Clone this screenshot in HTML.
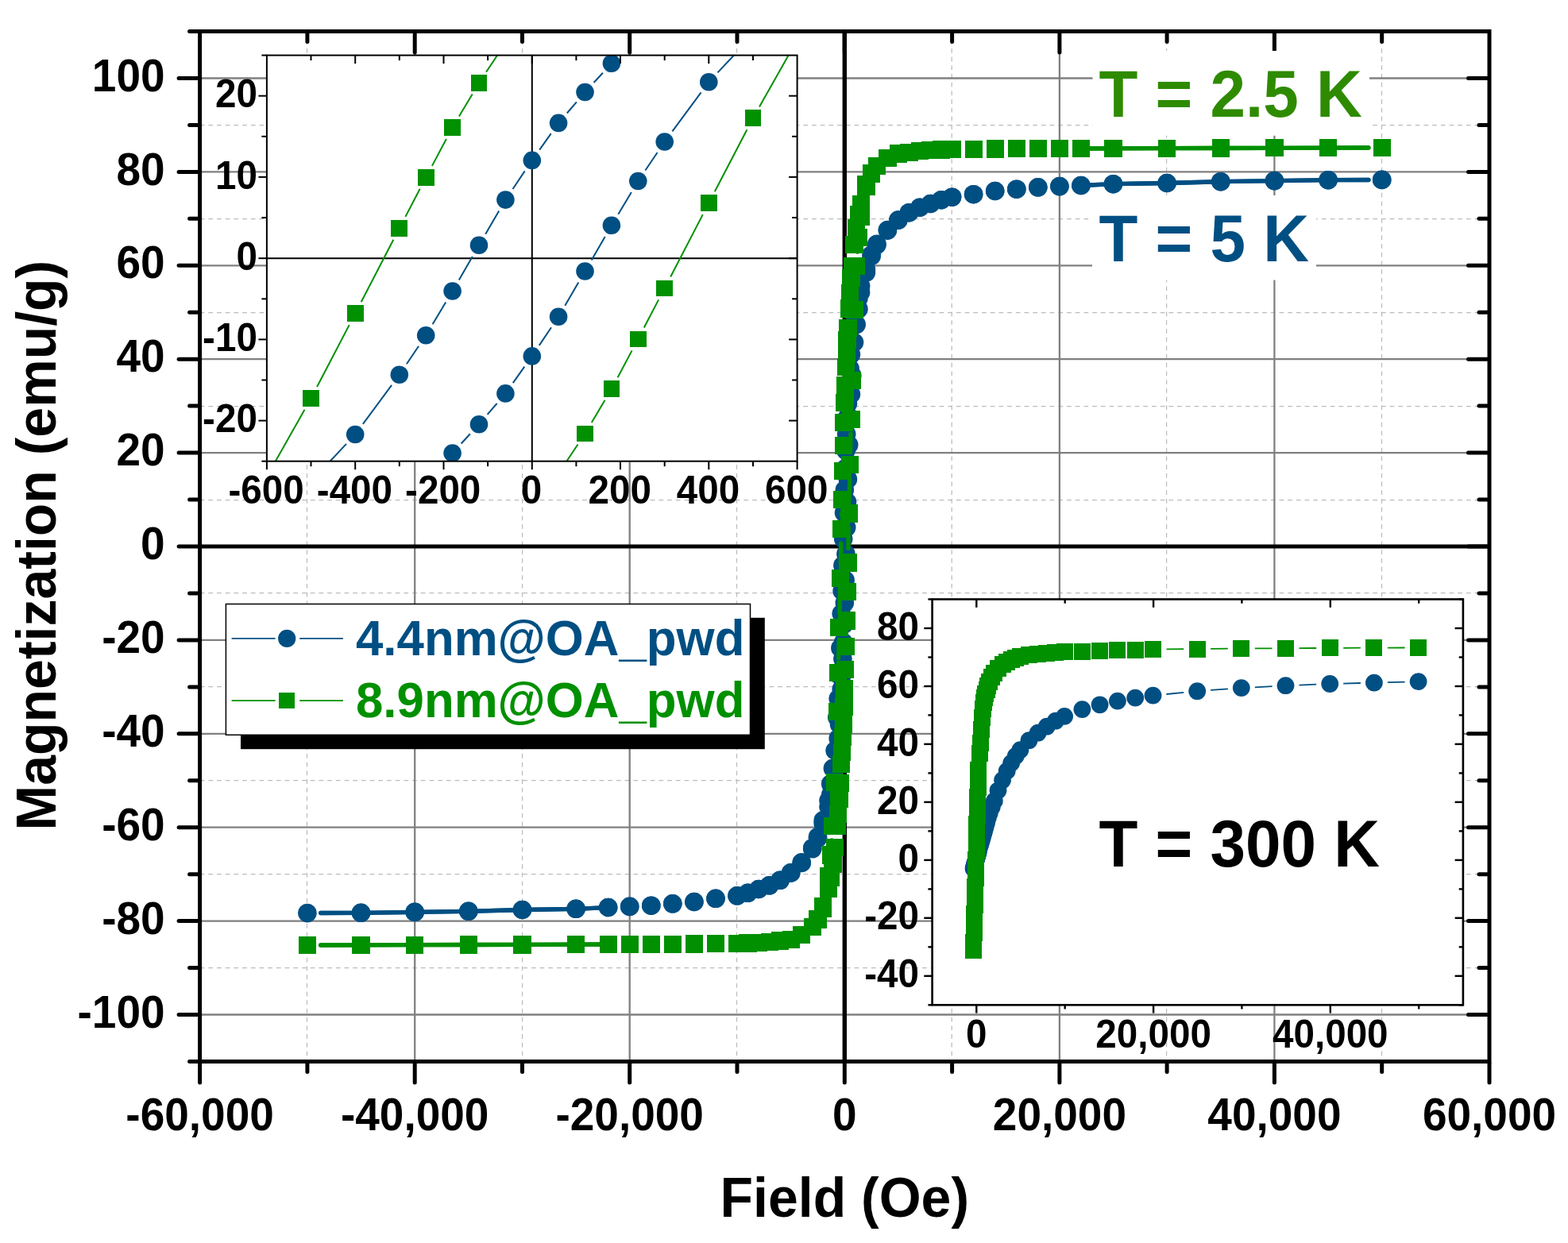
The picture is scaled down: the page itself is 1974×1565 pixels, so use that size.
<!DOCTYPE html>
<html><head><meta charset="utf-8"><title>Magnetization vs Field</title>
<style>html,body{margin:0;padding:0;background:#fff}svg{display:block}</style></head>
<body>
<svg width="1974" height="1565" viewBox="0 0 1974 1565" font-family='"Liberation Sans", sans-serif' font-weight="bold">
<rect width="1974" height="1565" fill="#fff"/>
<g shape-rendering="crispEdges"><line x1="386.5" y1="39.5" x2="386.5" y2="1336.5" stroke="#bcbcbc" stroke-width="1.25" stroke-dasharray="5.8 4.9" shape-rendering="auto"/><line x1="657.6" y1="39.5" x2="657.6" y2="1336.5" stroke="#bcbcbc" stroke-width="1.25" stroke-dasharray="5.8 4.9" shape-rendering="auto"/><line x1="927.5" y1="39.5" x2="927.5" y2="1336.5" stroke="#bcbcbc" stroke-width="1.25" stroke-dasharray="5.8 4.9" shape-rendering="auto"/><line x1="1198.2" y1="39.5" x2="1198.2" y2="1336.5" stroke="#bcbcbc" stroke-width="1.25" stroke-dasharray="5.8 4.9" shape-rendering="auto"/><line x1="1468.6" y1="39.5" x2="1468.6" y2="1336.5" stroke="#bcbcbc" stroke-width="1.25" stroke-dasharray="5.8 4.9" shape-rendering="auto"/><line x1="1739.5" y1="39.5" x2="1739.5" y2="1336.5" stroke="#bcbcbc" stroke-width="1.25" stroke-dasharray="5.8 4.9" shape-rendering="auto"/><line x1="251.6" y1="1218.5" x2="1875.0" y2="1218.5" stroke="#bcbcbc" stroke-width="1.25" stroke-dasharray="5.8 4.9" shape-rendering="auto"/><line x1="251.6" y1="1100.5" x2="1875.0" y2="1100.5" stroke="#bcbcbc" stroke-width="1.25" stroke-dasharray="5.8 4.9" shape-rendering="auto"/><line x1="251.6" y1="982.5" x2="1875.0" y2="982.5" stroke="#bcbcbc" stroke-width="1.25" stroke-dasharray="5.8 4.9" shape-rendering="auto"/><line x1="251.6" y1="864.5" x2="1875.0" y2="864.5" stroke="#bcbcbc" stroke-width="1.25" stroke-dasharray="5.8 4.9" shape-rendering="auto"/><line x1="251.6" y1="746.5" x2="1875.0" y2="746.5" stroke="#bcbcbc" stroke-width="1.25" stroke-dasharray="5.8 4.9" shape-rendering="auto"/><line x1="251.6" y1="629.5" x2="1875.0" y2="629.5" stroke="#bcbcbc" stroke-width="1.25" stroke-dasharray="5.8 4.9" shape-rendering="auto"/><line x1="251.6" y1="511.5" x2="1875.0" y2="511.5" stroke="#bcbcbc" stroke-width="1.25" stroke-dasharray="5.8 4.9" shape-rendering="auto"/><line x1="251.6" y1="393.5" x2="1875.0" y2="393.5" stroke="#bcbcbc" stroke-width="1.25" stroke-dasharray="5.8 4.9" shape-rendering="auto"/><line x1="251.6" y1="275.5" x2="1875.0" y2="275.5" stroke="#bcbcbc" stroke-width="1.25" stroke-dasharray="5.8 4.9" shape-rendering="auto"/><line x1="251.6" y1="157.5" x2="1875.0" y2="157.5" stroke="#bcbcbc" stroke-width="1.25" stroke-dasharray="5.8 4.9" shape-rendering="auto"/><line x1="522.2" y1="39.5" x2="522.2" y2="1336.5" stroke="#808080" stroke-width="2.3" shape-rendering="auto"/><line x1="792.7" y1="39.5" x2="792.7" y2="1336.5" stroke="#808080" stroke-width="2.3" shape-rendering="auto"/><line x1="1333.9" y1="39.5" x2="1333.9" y2="1336.5" stroke="#808080" stroke-width="2.3" shape-rendering="auto"/><line x1="1604.4" y1="39.5" x2="1604.4" y2="1336.5" stroke="#808080" stroke-width="2.3" shape-rendering="auto"/><line x1="251.6" y1="1277.5" x2="1875.0" y2="1277.5" stroke="#808080" stroke-width="2.3" shape-rendering="auto"/><line x1="251.6" y1="1159.6" x2="1875.0" y2="1159.6" stroke="#808080" stroke-width="2.3" shape-rendering="auto"/><line x1="251.6" y1="1041.7" x2="1875.0" y2="1041.7" stroke="#808080" stroke-width="2.3" shape-rendering="auto"/><line x1="251.6" y1="923.8" x2="1875.0" y2="923.8" stroke="#808080" stroke-width="2.3" shape-rendering="auto"/><line x1="251.6" y1="805.9" x2="1875.0" y2="805.9" stroke="#808080" stroke-width="2.3" shape-rendering="auto"/><line x1="251.6" y1="570.1" x2="1875.0" y2="570.1" stroke="#808080" stroke-width="2.3" shape-rendering="auto"/><line x1="251.6" y1="452.2" x2="1875.0" y2="452.2" stroke="#808080" stroke-width="2.3" shape-rendering="auto"/><line x1="251.6" y1="334.3" x2="1875.0" y2="334.3" stroke="#808080" stroke-width="2.3" shape-rendering="auto"/><line x1="251.6" y1="216.4" x2="1875.0" y2="216.4" stroke="#808080" stroke-width="2.3" shape-rendering="auto"/><line x1="251.6" y1="98.5" x2="1875.0" y2="98.5" stroke="#808080" stroke-width="2.3" shape-rendering="auto"/></g>
<line x1="1063.3" y1="39.5" x2="1063.3" y2="1336.5" stroke="#000" stroke-width="5.4"/>
<line x1="251.6" y1="688.0" x2="1875.0" y2="688.0" stroke="#000" stroke-width="5.0"/>
<g stroke="#004F83" stroke-width="5.3" stroke-linecap="round"><line x1="1058.7" y1="790.6" x2="1058.5" y2="797.9"/><line x1="1052.7" y1="921.1" x2="1052.3" y2="927.1"/><line x1="1067.9" y1="585.4" x2="1068.1" y2="578.1"/><line x1="1073.9" y1="454.9" x2="1074.3" y2="448.9"/><line x1="1722.9" y1="226.5" x2="1672.1" y2="226.7"/><line x1="1672.1" y1="226.7" x2="1604.4" y2="227.6"/><line x1="1604.4" y1="227.6" x2="1536.8" y2="228.7"/><line x1="1536.8" y1="228.7" x2="1469.1" y2="230.5"/><line x1="1469.1" y1="230.5" x2="1401.5" y2="231.7"/><line x1="1401.5" y1="231.7" x2="1360.9" y2="233.5"/><line x1="765.7" y1="1142.5" x2="725.1" y2="1144.3"/><line x1="725.1" y1="1144.3" x2="657.5" y2="1145.5"/><line x1="657.5" y1="1145.5" x2="589.8" y2="1147.3"/><line x1="589.8" y1="1147.3" x2="522.2" y2="1148.4"/><line x1="522.2" y1="1148.4" x2="454.5" y2="1149.3"/><line x1="454.5" y1="1149.3" x2="403.7" y2="1149.5"/><line x1="403.7" y1="1149.5" x2="454.5" y2="1149.3"/><line x1="454.5" y1="1149.3" x2="522.2" y2="1148.4"/><line x1="522.2" y1="1148.4" x2="589.8" y2="1147.3"/><line x1="589.8" y1="1147.3" x2="657.5" y2="1145.5"/><line x1="657.5" y1="1145.5" x2="725.1" y2="1144.3"/><line x1="725.1" y1="1144.3" x2="765.7" y2="1142.5"/><line x1="1360.9" y1="233.5" x2="1401.5" y2="231.7"/><line x1="1401.5" y1="231.7" x2="1469.1" y2="230.5"/><line x1="1469.1" y1="230.5" x2="1536.8" y2="228.7"/><line x1="1536.8" y1="228.7" x2="1604.4" y2="227.6"/><line x1="1604.4" y1="227.6" x2="1672.1" y2="226.7"/><line x1="1672.1" y1="226.7" x2="1722.9" y2="226.5"/></g><g fill="#004F83"><circle cx="1739.7" cy="226.4" r="11.8"/><circle cx="1672.1" cy="226.7" r="11.8"/><circle cx="1604.4" cy="227.6" r="11.8"/><circle cx="1536.8" cy="228.7" r="11.8"/><circle cx="1469.1" cy="230.5" r="11.8"/><circle cx="1401.5" cy="231.7" r="11.8"/><circle cx="1360.9" cy="233.5" r="11.8"/><circle cx="1333.9" cy="234.6" r="11.8"/><circle cx="1306.8" cy="235.8" r="11.8"/><circle cx="1279.8" cy="238.2" r="11.8"/><circle cx="1252.7" cy="240.5" r="11.8"/><circle cx="1225.6" cy="244.7" r="11.8"/><circle cx="1198.6" cy="248.2" r="11.8"/><circle cx="1185.1" cy="251.7" r="11.8"/><circle cx="1171.5" cy="256.5" r="11.8"/><circle cx="1158.0" cy="261.2" r="11.8"/><circle cx="1144.5" cy="267.7" r="11.8"/><circle cx="1130.9" cy="277.1" r="11.8"/><circle cx="1117.4" cy="289.5" r="11.8"/><circle cx="1103.9" cy="307.2" r="11.8"/><circle cx="1097.1" cy="320.7" r="11.8"/><circle cx="1090.4" cy="339.0" r="11.8"/><circle cx="1083.6" cy="360.2" r="11.8"/><circle cx="1080.9" cy="375.5" r="11.8"/><circle cx="1078.2" cy="390.3" r="11.8"/><circle cx="1075.5" cy="408.0" r="11.8"/><circle cx="1072.8" cy="431.5" r="11.8"/><circle cx="1071.4" cy="446.3" r="11.8"/><circle cx="1070.1" cy="464.0" r="11.8"/><circle cx="1068.7" cy="484.6" r="11.8"/><circle cx="1067.4" cy="508.2" r="11.8"/><circle cx="1066.5" cy="525.9" r="11.8"/><circle cx="1065.7" cy="546.5" r="11.8"/><circle cx="1064.9" cy="567.4" r="11.8"/><circle cx="1064.1" cy="589.8" r="11.8"/><circle cx="1063.3" cy="616.9" r="11.8"/><circle cx="1062.5" cy="645.6" r="11.8"/><circle cx="1061.7" cy="678.6" r="11.8"/><circle cx="1060.9" cy="711.9" r="11.8"/><circle cx="1060.1" cy="744.0" r="11.8"/><circle cx="1059.2" cy="772.6" r="11.8"/><circle cx="1057.9" cy="815.9" r="11.8"/><circle cx="1056.5" cy="850.1" r="11.8"/><circle cx="1055.2" cy="879.6" r="11.8"/><circle cx="1053.8" cy="903.2" r="11.8"/><circle cx="1051.1" cy="945.0" r="11.8"/><circle cx="1048.4" cy="967.4" r="11.8"/><circle cx="1045.7" cy="986.9" r="11.8"/><circle cx="1043.0" cy="1008.1" r="11.8"/><circle cx="1036.2" cy="1032.9" r="11.8"/><circle cx="1029.5" cy="1053.5" r="11.8"/><circle cx="1022.7" cy="1067.7" r="11.8"/><circle cx="1009.2" cy="1085.9" r="11.8"/><circle cx="995.7" cy="1098.9" r="11.8"/><circle cx="982.1" cy="1108.3" r="11.8"/><circle cx="968.6" cy="1114.8" r="11.8"/><circle cx="955.1" cy="1119.5" r="11.8"/><circle cx="941.5" cy="1124.3" r="11.8"/><circle cx="928.0" cy="1127.8" r="11.8"/><circle cx="901.0" cy="1131.3" r="11.8"/><circle cx="873.9" cy="1135.5" r="11.8"/><circle cx="846.8" cy="1137.8" r="11.8"/><circle cx="819.8" cy="1140.2" r="11.8"/><circle cx="792.7" cy="1141.4" r="11.8"/><circle cx="765.7" cy="1142.5" r="11.8"/><circle cx="725.1" cy="1144.3" r="11.8"/><circle cx="657.5" cy="1145.5" r="11.8"/><circle cx="589.8" cy="1147.3" r="11.8"/><circle cx="522.2" cy="1148.4" r="11.8"/><circle cx="454.5" cy="1149.3" r="11.8"/><circle cx="386.9" cy="1149.6" r="11.8"/><circle cx="454.5" cy="1149.3" r="11.8"/><circle cx="522.2" cy="1148.4" r="11.8"/><circle cx="589.8" cy="1147.3" r="11.8"/><circle cx="657.5" cy="1145.5" r="11.8"/><circle cx="725.1" cy="1144.3" r="11.8"/><circle cx="765.7" cy="1142.5" r="11.8"/><circle cx="792.7" cy="1141.4" r="11.8"/><circle cx="819.8" cy="1140.2" r="11.8"/><circle cx="846.8" cy="1137.8" r="11.8"/><circle cx="873.9" cy="1135.5" r="11.8"/><circle cx="901.0" cy="1131.3" r="11.8"/><circle cx="928.0" cy="1127.8" r="11.8"/><circle cx="941.5" cy="1124.3" r="11.8"/><circle cx="955.1" cy="1119.5" r="11.8"/><circle cx="968.6" cy="1114.8" r="11.8"/><circle cx="982.1" cy="1108.3" r="11.8"/><circle cx="995.7" cy="1098.9" r="11.8"/><circle cx="1009.2" cy="1086.5" r="11.8"/><circle cx="1022.7" cy="1068.8" r="11.8"/><circle cx="1029.5" cy="1055.3" r="11.8"/><circle cx="1036.2" cy="1037.0" r="11.8"/><circle cx="1043.0" cy="1015.8" r="11.8"/><circle cx="1045.7" cy="1000.5" r="11.8"/><circle cx="1048.4" cy="985.7" r="11.8"/><circle cx="1051.1" cy="968.0" r="11.8"/><circle cx="1053.8" cy="944.5" r="11.8"/><circle cx="1055.2" cy="929.7" r="11.8"/><circle cx="1056.5" cy="912.0" r="11.8"/><circle cx="1057.9" cy="891.4" r="11.8"/><circle cx="1059.2" cy="867.8" r="11.8"/><circle cx="1060.1" cy="850.1" r="11.8"/><circle cx="1060.9" cy="829.5" r="11.8"/><circle cx="1061.7" cy="808.6" r="11.8"/><circle cx="1062.5" cy="786.2" r="11.8"/><circle cx="1063.3" cy="759.1" r="11.8"/><circle cx="1064.1" cy="730.4" r="11.8"/><circle cx="1064.9" cy="697.4" r="11.8"/><circle cx="1065.7" cy="664.1" r="11.8"/><circle cx="1066.5" cy="632.0" r="11.8"/><circle cx="1067.4" cy="603.4" r="11.8"/><circle cx="1068.7" cy="560.1" r="11.8"/><circle cx="1070.1" cy="525.9" r="11.8"/><circle cx="1071.4" cy="496.4" r="11.8"/><circle cx="1072.8" cy="472.8" r="11.8"/><circle cx="1075.5" cy="431.0" r="11.8"/><circle cx="1078.2" cy="408.6" r="11.8"/><circle cx="1080.9" cy="389.1" r="11.8"/><circle cx="1083.6" cy="367.9" r="11.8"/><circle cx="1090.4" cy="343.1" r="11.8"/><circle cx="1097.1" cy="322.5" r="11.8"/><circle cx="1103.9" cy="308.3" r="11.8"/><circle cx="1117.4" cy="290.1" r="11.8"/><circle cx="1130.9" cy="277.1" r="11.8"/><circle cx="1144.5" cy="267.7" r="11.8"/><circle cx="1158.0" cy="261.2" r="11.8"/><circle cx="1171.5" cy="256.5" r="11.8"/><circle cx="1185.1" cy="251.7" r="11.8"/><circle cx="1198.6" cy="248.2" r="11.8"/><circle cx="1225.6" cy="244.7" r="11.8"/><circle cx="1252.7" cy="240.5" r="11.8"/><circle cx="1279.8" cy="238.2" r="11.8"/><circle cx="1306.8" cy="235.8" r="11.8"/><circle cx="1333.9" cy="234.6" r="11.8"/><circle cx="1360.9" cy="233.5" r="11.8"/><circle cx="1401.5" cy="231.7" r="11.8"/><circle cx="1469.1" cy="230.5" r="11.8"/><circle cx="1536.8" cy="228.7" r="11.8"/><circle cx="1604.4" cy="227.6" r="11.8"/><circle cx="1672.1" cy="226.7" r="11.8"/><circle cx="1739.7" cy="226.4" r="11.8"/></g>
<g stroke="#009000" stroke-width="5.3" stroke-linecap="round"><line x1="1059.7" y1="647.3" x2="1059.6" y2="648.2"/><line x1="1058.8" y1="684.2" x2="1058.3" y2="710.1"/><line x1="1057.5" y1="746.1" x2="1056.9" y2="771.7"/><line x1="1056.1" y1="807.7" x2="1055.6" y2="828.6"/><line x1="1054.7" y1="864.6" x2="1054.3" y2="878.1"/><line x1="1053.3" y1="914.1" x2="1051.7" y2="967.1"/><line x1="1050.2" y1="1003.1" x2="1049.3" y2="1022.0"/><line x1="1047.1" y1="1057.9" x2="1047.0" y2="1058.6"/><line x1="1039.9" y1="1120.8" x2="1039.4" y2="1123.3"/><line x1="1066.9" y1="727.3" x2="1067.0" y2="726.4"/><line x1="1067.8" y1="690.4" x2="1068.3" y2="664.5"/><line x1="1069.1" y1="628.5" x2="1069.7" y2="603.0"/><line x1="1070.5" y1="567.0" x2="1071.0" y2="546.2"/><line x1="1071.9" y1="510.2" x2="1072.3" y2="496.7"/><line x1="1073.3" y1="460.7" x2="1074.9" y2="407.8"/><line x1="1076.4" y1="371.9" x2="1077.3" y2="353.2"/><line x1="1079.5" y1="317.2" x2="1079.6" y2="316.7"/><line x1="1086.8" y1="254.7" x2="1087.2" y2="252.4"/><line x1="1722.9" y1="186.0" x2="1672.1" y2="186.2"/><line x1="1672.1" y1="186.2" x2="1604.4" y2="186.3"/><line x1="1604.4" y1="186.3" x2="1536.8" y2="186.5"/><line x1="1536.8" y1="186.5" x2="1469.1" y2="186.6"/><line x1="1469.1" y1="186.6" x2="1401.5" y2="186.8"/><line x1="1401.5" y1="186.8" x2="1360.9" y2="187.0"/><line x1="765.7" y1="1189.0" x2="725.1" y2="1189.2"/><line x1="725.1" y1="1189.2" x2="657.5" y2="1189.4"/><line x1="657.5" y1="1189.4" x2="589.8" y2="1189.5"/><line x1="589.8" y1="1189.5" x2="522.2" y2="1189.7"/><line x1="522.2" y1="1189.7" x2="454.5" y2="1189.8"/><line x1="454.5" y1="1189.8" x2="403.7" y2="1190.0"/><line x1="403.7" y1="1190.0" x2="454.5" y2="1189.8"/><line x1="454.5" y1="1189.8" x2="522.2" y2="1189.7"/><line x1="522.2" y1="1189.7" x2="589.8" y2="1189.5"/><line x1="589.8" y1="1189.5" x2="657.5" y2="1189.4"/><line x1="657.5" y1="1189.4" x2="725.1" y2="1189.2"/><line x1="725.1" y1="1189.2" x2="765.7" y2="1189.0"/><line x1="1360.9" y1="187.0" x2="1401.5" y2="186.8"/><line x1="1401.5" y1="186.8" x2="1469.1" y2="186.6"/><line x1="1469.1" y1="186.6" x2="1536.8" y2="186.5"/><line x1="1536.8" y1="186.5" x2="1604.4" y2="186.3"/><line x1="1604.4" y1="186.3" x2="1672.1" y2="186.2"/><line x1="1672.1" y1="186.2" x2="1722.9" y2="186.0"/></g><g fill="#009000" shape-rendering="crispEdges"><rect x="1728.6" y="174.9" width="22.2" height="22.2"/><rect x="1661.0" y="175.1" width="22.2" height="22.2"/><rect x="1593.3" y="175.2" width="22.2" height="22.2"/><rect x="1525.7" y="175.4" width="22.2" height="22.2"/><rect x="1458.0" y="175.5" width="22.2" height="22.2"/><rect x="1390.4" y="175.7" width="22.2" height="22.2"/><rect x="1349.8" y="175.9" width="22.2" height="22.2"/><rect x="1322.8" y="176.0" width="22.2" height="22.2"/><rect x="1295.7" y="176.1" width="22.2" height="22.2"/><rect x="1268.7" y="176.2" width="22.2" height="22.2"/><rect x="1241.6" y="176.4" width="22.2" height="22.2"/><rect x="1214.5" y="176.6" width="22.2" height="22.2"/><rect x="1187.5" y="177.0" width="22.2" height="22.2"/><rect x="1174.0" y="177.4" width="22.2" height="22.2"/><rect x="1160.4" y="178.1" width="22.2" height="22.2"/><rect x="1146.9" y="179.0" width="22.2" height="22.2"/><rect x="1133.4" y="180.5" width="22.2" height="22.2"/><rect x="1119.8" y="182.3" width="22.2" height="22.2"/><rect x="1106.3" y="187.6" width="22.2" height="22.2"/><rect x="1092.8" y="197.6" width="22.2" height="22.2"/><rect x="1086.0" y="207.0" width="22.2" height="22.2"/><rect x="1079.3" y="221.2" width="22.2" height="22.2"/><rect x="1072.5" y="245.9" width="22.2" height="22.2"/><rect x="1069.8" y="258.9" width="22.2" height="22.2"/><rect x="1067.1" y="276.0" width="22.2" height="22.2"/><rect x="1064.4" y="297.2" width="22.2" height="22.2"/><rect x="1061.7" y="323.8" width="22.2" height="22.2"/><rect x="1060.3" y="339.1" width="22.2" height="22.2"/><rect x="1059.0" y="357.7" width="22.2" height="22.2"/><rect x="1057.6" y="377.4" width="22.2" height="22.2"/><rect x="1056.3" y="401.6" width="22.2" height="22.2"/><rect x="1055.4" y="416.9" width="22.2" height="22.2"/><rect x="1054.6" y="435.2" width="22.2" height="22.2"/><rect x="1053.8" y="451.1" width="22.2" height="22.2"/><rect x="1053.0" y="473.5" width="22.2" height="22.2"/><rect x="1052.2" y="495.9" width="22.2" height="22.2"/><rect x="1051.4" y="520.7" width="22.2" height="22.2"/><rect x="1050.6" y="549.6" width="22.2" height="22.2"/><rect x="1049.8" y="582.0" width="22.2" height="22.2"/><rect x="1049.0" y="618.2" width="22.2" height="22.2"/><rect x="1048.1" y="655.1" width="22.2" height="22.2"/><rect x="1046.8" y="717.0" width="22.2" height="22.2"/><rect x="1045.4" y="778.6" width="22.2" height="22.2"/><rect x="1044.1" y="835.5" width="22.2" height="22.2"/><rect x="1042.7" y="885.0" width="22.2" height="22.2"/><rect x="1040.0" y="974.0" width="22.2" height="22.2"/><rect x="1037.3" y="1028.9" width="22.2" height="22.2"/><rect x="1034.6" y="1065.4" width="22.2" height="22.2"/><rect x="1031.9" y="1091.9" width="22.2" height="22.2"/><rect x="1025.1" y="1130.0" width="22.2" height="22.2"/><rect x="1018.4" y="1145.6" width="22.2" height="22.2"/><rect x="1011.6" y="1155.6" width="22.2" height="22.2"/><rect x="998.1" y="1166.2" width="22.2" height="22.2"/><rect x="984.6" y="1171.5" width="22.2" height="22.2"/><rect x="971.0" y="1173.3" width="22.2" height="22.2"/><rect x="957.5" y="1174.8" width="22.2" height="22.2"/><rect x="944.0" y="1175.7" width="22.2" height="22.2"/><rect x="930.4" y="1176.4" width="22.2" height="22.2"/><rect x="916.9" y="1176.8" width="22.2" height="22.2"/><rect x="889.9" y="1177.2" width="22.2" height="22.2"/><rect x="862.8" y="1177.4" width="22.2" height="22.2"/><rect x="835.7" y="1177.6" width="22.2" height="22.2"/><rect x="808.7" y="1177.7" width="22.2" height="22.2"/><rect x="781.6" y="1177.8" width="22.2" height="22.2"/><rect x="754.6" y="1177.9" width="22.2" height="22.2"/><rect x="714.0" y="1178.1" width="22.2" height="22.2"/><rect x="646.4" y="1178.3" width="22.2" height="22.2"/><rect x="578.7" y="1178.4" width="22.2" height="22.2"/><rect x="511.1" y="1178.6" width="22.2" height="22.2"/><rect x="443.4" y="1178.7" width="22.2" height="22.2"/><rect x="375.8" y="1178.9" width="22.2" height="22.2"/><rect x="443.4" y="1178.7" width="22.2" height="22.2"/><rect x="511.1" y="1178.6" width="22.2" height="22.2"/><rect x="578.7" y="1178.4" width="22.2" height="22.2"/><rect x="646.4" y="1178.3" width="22.2" height="22.2"/><rect x="714.0" y="1178.1" width="22.2" height="22.2"/><rect x="754.6" y="1177.9" width="22.2" height="22.2"/><rect x="781.6" y="1177.8" width="22.2" height="22.2"/><rect x="808.7" y="1177.7" width="22.2" height="22.2"/><rect x="835.7" y="1177.6" width="22.2" height="22.2"/><rect x="862.8" y="1177.4" width="22.2" height="22.2"/><rect x="889.9" y="1177.2" width="22.2" height="22.2"/><rect x="916.9" y="1176.8" width="22.2" height="22.2"/><rect x="930.4" y="1176.4" width="22.2" height="22.2"/><rect x="944.0" y="1175.7" width="22.2" height="22.2"/><rect x="957.5" y="1174.8" width="22.2" height="22.2"/><rect x="971.0" y="1173.3" width="22.2" height="22.2"/><rect x="984.6" y="1171.5" width="22.2" height="22.2"/><rect x="998.1" y="1166.2" width="22.2" height="22.2"/><rect x="1011.6" y="1156.2" width="22.2" height="22.2"/><rect x="1018.4" y="1146.7" width="22.2" height="22.2"/><rect x="1025.1" y="1132.4" width="22.2" height="22.2"/><rect x="1031.9" y="1107.3" width="22.2" height="22.2"/><rect x="1034.6" y="1094.2" width="22.2" height="22.2"/><rect x="1037.3" y="1076.9" width="22.2" height="22.2"/><rect x="1040.0" y="1055.5" width="22.2" height="22.2"/><rect x="1042.7" y="1028.9" width="22.2" height="22.2"/><rect x="1044.1" y="1013.5" width="22.2" height="22.2"/><rect x="1045.4" y="994.8" width="22.2" height="22.2"/><rect x="1046.8" y="975.0" width="22.2" height="22.2"/><rect x="1048.1" y="950.8" width="22.2" height="22.2"/><rect x="1049.0" y="935.5" width="22.2" height="22.2"/><rect x="1049.8" y="917.2" width="22.2" height="22.2"/><rect x="1050.6" y="901.2" width="22.2" height="22.2"/><rect x="1051.4" y="878.8" width="22.2" height="22.2"/><rect x="1052.2" y="856.4" width="22.2" height="22.2"/><rect x="1053.0" y="831.7" width="22.2" height="22.2"/><rect x="1053.8" y="802.8" width="22.2" height="22.2"/><rect x="1054.6" y="770.4" width="22.2" height="22.2"/><rect x="1055.4" y="734.2" width="22.2" height="22.2"/><rect x="1056.3" y="697.3" width="22.2" height="22.2"/><rect x="1057.6" y="635.4" width="22.2" height="22.2"/><rect x="1059.0" y="573.9" width="22.2" height="22.2"/><rect x="1060.3" y="517.1" width="22.2" height="22.2"/><rect x="1061.7" y="467.6" width="22.2" height="22.2"/><rect x="1064.4" y="378.7" width="22.2" height="22.2"/><rect x="1067.1" y="324.1" width="22.2" height="22.2"/><rect x="1069.8" y="287.7" width="22.2" height="22.2"/><rect x="1072.5" y="261.3" width="22.2" height="22.2"/><rect x="1079.3" y="223.6" width="22.2" height="22.2"/><rect x="1086.0" y="208.1" width="22.2" height="22.2"/><rect x="1092.8" y="198.2" width="22.2" height="22.2"/><rect x="1106.3" y="187.6" width="22.2" height="22.2"/><rect x="1119.8" y="182.3" width="22.2" height="22.2"/><rect x="1133.4" y="180.5" width="22.2" height="22.2"/><rect x="1146.9" y="179.0" width="22.2" height="22.2"/><rect x="1160.4" y="178.1" width="22.2" height="22.2"/><rect x="1174.0" y="177.4" width="22.2" height="22.2"/><rect x="1187.5" y="177.0" width="22.2" height="22.2"/><rect x="1214.5" y="176.6" width="22.2" height="22.2"/><rect x="1241.6" y="176.4" width="22.2" height="22.2"/><rect x="1268.7" y="176.2" width="22.2" height="22.2"/><rect x="1295.7" y="176.1" width="22.2" height="22.2"/><rect x="1322.8" y="176.0" width="22.2" height="22.2"/><rect x="1349.8" y="175.9" width="22.2" height="22.2"/><rect x="1390.4" y="175.7" width="22.2" height="22.2"/><rect x="1458.0" y="175.5" width="22.2" height="22.2"/><rect x="1525.7" y="175.4" width="22.2" height="22.2"/><rect x="1593.3" y="175.2" width="22.2" height="22.2"/><rect x="1661.0" y="175.1" width="22.2" height="22.2"/><rect x="1728.6" y="174.9" width="22.2" height="22.2"/></g>
<g><line x1="251.6" y1="1339.0" x2="251.6" y2="1363.0" stroke="#000" stroke-width="5.0" stroke-linecap="round"/><line x1="386.9" y1="1339.0" x2="386.9" y2="1349.5" stroke="#000" stroke-width="5.0" stroke-linecap="round"/><line x1="386.9" y1="42.0" x2="386.9" y2="52.5" stroke="#000" stroke-width="5.0" stroke-linecap="round"/><line x1="522.2" y1="1339.0" x2="522.2" y2="1363.0" stroke="#000" stroke-width="5.0" stroke-linecap="round"/><line x1="522.2" y1="42.0" x2="522.2" y2="66.0" stroke="#000" stroke-width="5.0" stroke-linecap="round"/><line x1="657.5" y1="1339.0" x2="657.5" y2="1349.5" stroke="#000" stroke-width="5.0" stroke-linecap="round"/><line x1="657.5" y1="42.0" x2="657.5" y2="52.5" stroke="#000" stroke-width="5.0" stroke-linecap="round"/><line x1="792.7" y1="1339.0" x2="792.7" y2="1363.0" stroke="#000" stroke-width="5.0" stroke-linecap="round"/><line x1="792.7" y1="42.0" x2="792.7" y2="66.0" stroke="#000" stroke-width="5.0" stroke-linecap="round"/><line x1="928.0" y1="1339.0" x2="928.0" y2="1349.5" stroke="#000" stroke-width="5.0" stroke-linecap="round"/><line x1="928.0" y1="42.0" x2="928.0" y2="52.5" stroke="#000" stroke-width="5.0" stroke-linecap="round"/><line x1="1063.3" y1="1339.0" x2="1063.3" y2="1363.0" stroke="#000" stroke-width="5.0" stroke-linecap="round"/><line x1="1063.3" y1="42.0" x2="1063.3" y2="66.0" stroke="#000" stroke-width="5.0" stroke-linecap="round"/><line x1="1198.6" y1="1339.0" x2="1198.6" y2="1349.5" stroke="#000" stroke-width="5.0" stroke-linecap="round"/><line x1="1198.6" y1="42.0" x2="1198.6" y2="52.5" stroke="#000" stroke-width="5.0" stroke-linecap="round"/><line x1="1333.9" y1="1339.0" x2="1333.9" y2="1363.0" stroke="#000" stroke-width="5.0" stroke-linecap="round"/><line x1="1333.9" y1="42.0" x2="1333.9" y2="66.0" stroke="#000" stroke-width="5.0" stroke-linecap="round"/><line x1="1469.1" y1="1339.0" x2="1469.1" y2="1349.5" stroke="#000" stroke-width="5.0" stroke-linecap="round"/><line x1="1469.1" y1="42.0" x2="1469.1" y2="52.5" stroke="#000" stroke-width="5.0" stroke-linecap="round"/><line x1="1604.4" y1="1339.0" x2="1604.4" y2="1363.0" stroke="#000" stroke-width="5.0" stroke-linecap="round"/><line x1="1604.4" y1="42.0" x2="1604.4" y2="66.0" stroke="#000" stroke-width="5.0" stroke-linecap="round"/><line x1="1739.7" y1="1339.0" x2="1739.7" y2="1349.5" stroke="#000" stroke-width="5.0" stroke-linecap="round"/><line x1="1739.7" y1="42.0" x2="1739.7" y2="52.5" stroke="#000" stroke-width="5.0" stroke-linecap="round"/><line x1="1875.0" y1="1339.0" x2="1875.0" y2="1363.0" stroke="#000" stroke-width="5.0" stroke-linecap="round"/><line x1="238.6" y1="1336.5" x2="249.1" y2="1336.5" stroke="#000" stroke-width="5.0" stroke-linecap="round"/><line x1="225.1" y1="1277.5" x2="249.1" y2="1277.5" stroke="#000" stroke-width="5.0" stroke-linecap="round"/><line x1="1848.5" y1="1277.5" x2="1872.5" y2="1277.5" stroke="#000" stroke-width="5.0" stroke-linecap="round"/><line x1="238.6" y1="1218.6" x2="249.1" y2="1218.6" stroke="#000" stroke-width="5.0" stroke-linecap="round"/><line x1="1862.0" y1="1218.6" x2="1872.5" y2="1218.6" stroke="#000" stroke-width="5.0" stroke-linecap="round"/><line x1="225.1" y1="1159.6" x2="249.1" y2="1159.6" stroke="#000" stroke-width="5.0" stroke-linecap="round"/><line x1="1848.5" y1="1159.6" x2="1872.5" y2="1159.6" stroke="#000" stroke-width="5.0" stroke-linecap="round"/><line x1="238.6" y1="1100.7" x2="249.1" y2="1100.7" stroke="#000" stroke-width="5.0" stroke-linecap="round"/><line x1="1862.0" y1="1100.7" x2="1872.5" y2="1100.7" stroke="#000" stroke-width="5.0" stroke-linecap="round"/><line x1="225.1" y1="1041.7" x2="249.1" y2="1041.7" stroke="#000" stroke-width="5.0" stroke-linecap="round"/><line x1="1848.5" y1="1041.7" x2="1872.5" y2="1041.7" stroke="#000" stroke-width="5.0" stroke-linecap="round"/><line x1="238.6" y1="982.8" x2="249.1" y2="982.8" stroke="#000" stroke-width="5.0" stroke-linecap="round"/><line x1="1862.0" y1="982.8" x2="1872.5" y2="982.8" stroke="#000" stroke-width="5.0" stroke-linecap="round"/><line x1="225.1" y1="923.8" x2="249.1" y2="923.8" stroke="#000" stroke-width="5.0" stroke-linecap="round"/><line x1="1848.5" y1="923.8" x2="1872.5" y2="923.8" stroke="#000" stroke-width="5.0" stroke-linecap="round"/><line x1="238.6" y1="864.9" x2="249.1" y2="864.9" stroke="#000" stroke-width="5.0" stroke-linecap="round"/><line x1="1862.0" y1="864.9" x2="1872.5" y2="864.9" stroke="#000" stroke-width="5.0" stroke-linecap="round"/><line x1="225.1" y1="805.9" x2="249.1" y2="805.9" stroke="#000" stroke-width="5.0" stroke-linecap="round"/><line x1="1848.5" y1="805.9" x2="1872.5" y2="805.9" stroke="#000" stroke-width="5.0" stroke-linecap="round"/><line x1="238.6" y1="747.0" x2="249.1" y2="747.0" stroke="#000" stroke-width="5.0" stroke-linecap="round"/><line x1="1862.0" y1="747.0" x2="1872.5" y2="747.0" stroke="#000" stroke-width="5.0" stroke-linecap="round"/><line x1="225.1" y1="688.0" x2="249.1" y2="688.0" stroke="#000" stroke-width="5.0" stroke-linecap="round"/><line x1="1848.5" y1="688.0" x2="1872.5" y2="688.0" stroke="#000" stroke-width="5.0" stroke-linecap="round"/><line x1="238.6" y1="629.0" x2="249.1" y2="629.0" stroke="#000" stroke-width="5.0" stroke-linecap="round"/><line x1="1862.0" y1="629.0" x2="1872.5" y2="629.0" stroke="#000" stroke-width="5.0" stroke-linecap="round"/><line x1="225.1" y1="570.1" x2="249.1" y2="570.1" stroke="#000" stroke-width="5.0" stroke-linecap="round"/><line x1="1848.5" y1="570.1" x2="1872.5" y2="570.1" stroke="#000" stroke-width="5.0" stroke-linecap="round"/><line x1="238.6" y1="511.1" x2="249.1" y2="511.1" stroke="#000" stroke-width="5.0" stroke-linecap="round"/><line x1="1862.0" y1="511.1" x2="1872.5" y2="511.1" stroke="#000" stroke-width="5.0" stroke-linecap="round"/><line x1="225.1" y1="452.2" x2="249.1" y2="452.2" stroke="#000" stroke-width="5.0" stroke-linecap="round"/><line x1="1848.5" y1="452.2" x2="1872.5" y2="452.2" stroke="#000" stroke-width="5.0" stroke-linecap="round"/><line x1="238.6" y1="393.2" x2="249.1" y2="393.2" stroke="#000" stroke-width="5.0" stroke-linecap="round"/><line x1="1862.0" y1="393.2" x2="1872.5" y2="393.2" stroke="#000" stroke-width="5.0" stroke-linecap="round"/><line x1="225.1" y1="334.3" x2="249.1" y2="334.3" stroke="#000" stroke-width="5.0" stroke-linecap="round"/><line x1="1848.5" y1="334.3" x2="1872.5" y2="334.3" stroke="#000" stroke-width="5.0" stroke-linecap="round"/><line x1="238.6" y1="275.3" x2="249.1" y2="275.3" stroke="#000" stroke-width="5.0" stroke-linecap="round"/><line x1="1862.0" y1="275.3" x2="1872.5" y2="275.3" stroke="#000" stroke-width="5.0" stroke-linecap="round"/><line x1="225.1" y1="216.4" x2="249.1" y2="216.4" stroke="#000" stroke-width="5.0" stroke-linecap="round"/><line x1="1848.5" y1="216.4" x2="1872.5" y2="216.4" stroke="#000" stroke-width="5.0" stroke-linecap="round"/><line x1="238.6" y1="157.4" x2="249.1" y2="157.4" stroke="#000" stroke-width="5.0" stroke-linecap="round"/><line x1="1862.0" y1="157.4" x2="1872.5" y2="157.4" stroke="#000" stroke-width="5.0" stroke-linecap="round"/><line x1="225.1" y1="98.5" x2="249.1" y2="98.5" stroke="#000" stroke-width="5.0" stroke-linecap="round"/><line x1="1848.5" y1="98.5" x2="1872.5" y2="98.5" stroke="#000" stroke-width="5.0" stroke-linecap="round"/><line x1="238.6" y1="39.5" x2="249.1" y2="39.5" stroke="#000" stroke-width="5.0" stroke-linecap="round"/><rect x="251.6" y="39.5" width="1623.4" height="1297.0" fill="none" stroke="#000" stroke-width="5.0"/></g>
<g><text transform="translate(251.6 1423.0) scale(1 1.06)" font-size="55" text-anchor="middle" fill="#000" >-60,000</text><text transform="translate(522.2 1423.0) scale(1 1.06)" font-size="55" text-anchor="middle" fill="#000" >-40,000</text><text transform="translate(792.7 1423.0) scale(1 1.06)" font-size="55" text-anchor="middle" fill="#000" >-20,000</text><text transform="translate(1063.3 1423.0) scale(1 1.06)" font-size="55" text-anchor="middle" fill="#000" >0</text><text transform="translate(1333.9 1423.0) scale(1 1.06)" font-size="55" text-anchor="middle" fill="#000" >20,000</text><text transform="translate(1604.4 1423.0) scale(1 1.06)" font-size="55" text-anchor="middle" fill="#000" >40,000</text><text transform="translate(1875.0 1423.0) scale(1 1.06)" font-size="55" text-anchor="middle" fill="#000" >60,000</text><text transform="translate(207.6 1293.6) scale(1 1.055)" font-size="55" text-anchor="end" fill="#000" >-100</text><text transform="translate(207.6 1175.7) scale(1 1.055)" font-size="55" text-anchor="end" fill="#000" >-80</text><text transform="translate(207.6 1057.8) scale(1 1.055)" font-size="55" text-anchor="end" fill="#000" >-60</text><text transform="translate(207.6 939.9) scale(1 1.055)" font-size="55" text-anchor="end" fill="#000" >-40</text><text transform="translate(207.6 822.0) scale(1 1.055)" font-size="55" text-anchor="end" fill="#000" >-20</text><text transform="translate(207.6 704.1) scale(1 1.055)" font-size="55" text-anchor="end" fill="#000" >0</text><text transform="translate(207.6 586.2) scale(1 1.055)" font-size="55" text-anchor="end" fill="#000" >20</text><text transform="translate(207.6 468.3) scale(1 1.055)" font-size="55" text-anchor="end" fill="#000" >40</text><text transform="translate(207.6 350.4) scale(1 1.055)" font-size="55" text-anchor="end" fill="#000" >60</text><text transform="translate(207.6 232.5) scale(1 1.055)" font-size="55" text-anchor="end" fill="#000" >80</text><text transform="translate(207.6 114.6) scale(1 1.055)" font-size="55" text-anchor="end" fill="#000" >100</text></g>
<text transform="translate(1063.3 1532.2) scale(1 1.025)" font-size="68" text-anchor="middle" fill="#000" >Field (Oe)</text>
<text transform="translate(69.7 686.6) rotate(-90) scale(1 1.025)" font-size="68" text-anchor="middle">Magnetization (emu/g)</text>
<rect x="1375.5" y="64" width="348.5" height="106.8" fill="#fff"/>
<text transform="translate(1383.5 146.8) scale(1 1.05)" font-size="80" text-anchor="start" fill="#2E8B00" >T = 2.5 K</text>
<rect x="1375" y="246" width="282" height="106.6" fill="#fff"/>
<text transform="translate(1383.5 328.7) scale(1 1.05)" font-size="80" text-anchor="start" fill="#004F83" >T = 5 K</text>
<rect x="303" y="777.8" width="659.8" height="165.4" fill="#000"/>
<rect x="284.4" y="760.5" width="660.1" height="164.8" fill="#fff" stroke="#000" stroke-width="1.5"/>
<line x1="291.6" y1="803.9" x2="346.6" y2="803.9" stroke="#004F83" stroke-width="1.6"/>
<line x1="377.2" y1="803.9" x2="431.9" y2="803.9" stroke="#004F83" stroke-width="1.6"/>
<g fill="#004F83"><circle cx="361.2" cy="803.9" r="11.1"/></g>
<line x1="291.6" y1="882.1" x2="346.6" y2="882.1" stroke="#009000" stroke-width="1.6"/>
<line x1="377.2" y1="882.1" x2="431.9" y2="882.1" stroke="#009000" stroke-width="1.6"/>
<g fill="#009000" shape-rendering="crispEdges"><rect x="351.2" y="872.1" width="20" height="20"/></g>
<text transform="translate(448.0 825.3) scale(1 1.02)" font-size="61.8" text-anchor="start" fill="#004F83" >4.4nm@OA_pwd</text>
<text transform="translate(448.0 903.3) scale(1 1.02)" font-size="61.8" text-anchor="start" fill="#009000" >8.9nm@OA_pwd</text>
<g><rect x="335.9" y="69.6" width="667.7" height="511.1" fill="#fff"/><clipPath id="c1"><rect x="335.9" y="69.6" width="667.7" height="511.1"/></clipPath><line x1="669.8" y1="69.6" x2="669.8" y2="580.7" stroke="#000" stroke-width="2.0"/><line x1="335.9" y1="325.2" x2="1003.6" y2="325.2" stroke="#000" stroke-width="2.0"/><g clip-path="url(#c1)"><g stroke="#004F83" stroke-width="2.0"><line x1="1155.2" y1="-154.8" x2="1074.5" y2="-125.1"/><line x1="1044.4" y1="-112.7" x2="1018.4" y2="-100.8"/><line x1="989.3" y1="-86.1" x2="962.2" y2="-71.2"/><line x1="934.2" y1="-54.5" x2="906.0" y2="-36.3"/><line x1="879.2" y1="-17.9" x2="849.8" y2="3.7"/><line x1="824.7" y1="24.4" x2="815.3" y2="33.0"/><line x1="792.2" y1="56.0" x2="781.0" y2="67.9"/><line x1="758.9" y1="91.8" x2="747.6" y2="104.0"/><line x1="725.9" y1="128.4" x2="713.8" y2="142.5"/><line x1="693.7" y1="168.1" x2="679.2" y2="188.6"/><line x1="660.7" y1="215.4" x2="645.5" y2="238.0"/><line x1="628.2" y1="265.6" x2="611.2" y2="294.7"/><line x1="594.8" y1="322.9" x2="577.8" y2="352.4"/><line x1="561.2" y1="380.5" x2="544.6" y2="408.3"/><line x1="527.1" y1="435.8" x2="511.9" y2="458.3"/><line x1="493.1" y1="484.9" x2="456.9" y2="533.9"/><line x1="436.0" y1="558.9" x2="402.7" y2="594.4"/><line x1="379.5" y1="617.3" x2="347.9" y2="646.3"/><line x1="322.8" y1="667.0" x2="293.4" y2="688.6"/><line x1="266.6" y1="707.2" x2="182.6" y2="761.9"/></g><g fill="#004F83"><circle cx="1170.5" cy="-160.4" r="11.3"/><circle cx="1059.2" cy="-119.5" r="11.3"/><circle cx="1003.6" cy="-94.0" r="11.3"/><circle cx="948.0" cy="-63.3" r="11.3"/><circle cx="892.3" cy="-27.5" r="11.3"/><circle cx="836.7" cy="13.4" r="11.3"/><circle cx="803.3" cy="44.0" r="11.3"/><circle cx="769.9" cy="79.8" r="11.3"/><circle cx="736.5" cy="116.0" r="11.3"/><circle cx="703.1" cy="154.9" r="11.3"/><circle cx="669.8" cy="201.9" r="11.3"/><circle cx="636.4" cy="251.6" r="11.3"/><circle cx="603.0" cy="308.8" r="11.3"/><circle cx="569.6" cy="366.5" r="11.3"/><circle cx="536.2" cy="422.3" r="11.3"/><circle cx="502.8" cy="471.8" r="11.3"/><circle cx="447.2" cy="547.0" r="11.3"/><circle cx="391.5" cy="606.3" r="11.3"/><circle cx="335.9" cy="657.4" r="11.3"/><circle cx="280.3" cy="698.3" r="11.3"/><circle cx="169.0" cy="770.8" r="11.3"/></g><g stroke="#004F83" stroke-width="2.0"><line x1="184.3" y1="805.1" x2="265.0" y2="775.4"/><line x1="295.1" y1="763.0" x2="321.1" y2="751.1"/><line x1="350.2" y1="736.4" x2="377.3" y2="721.5"/><line x1="405.3" y1="704.8" x2="433.5" y2="686.6"/><line x1="460.3" y1="668.2" x2="489.7" y2="646.6"/><line x1="514.8" y1="625.9" x2="524.2" y2="617.3"/><line x1="547.3" y1="594.3" x2="558.5" y2="582.4"/><line x1="580.6" y1="558.5" x2="591.9" y2="546.3"/><line x1="613.6" y1="521.9" x2="625.7" y2="507.8"/><line x1="645.8" y1="482.2" x2="660.3" y2="461.7"/><line x1="678.8" y1="434.9" x2="694.0" y2="412.3"/><line x1="711.3" y1="384.7" x2="728.3" y2="355.6"/><line x1="744.7" y1="327.4" x2="761.7" y2="297.9"/><line x1="778.3" y1="269.8" x2="794.9" y2="242.0"/><line x1="812.4" y1="214.5" x2="827.6" y2="192.0"/><line x1="846.4" y1="165.4" x2="882.6" y2="116.4"/><line x1="903.5" y1="91.4" x2="936.8" y2="55.9"/><line x1="960.0" y1="33.0" x2="991.6" y2="4.0"/><line x1="1016.7" y1="-16.7" x2="1046.1" y2="-38.3"/><line x1="1072.9" y1="-56.9" x2="1156.9" y2="-111.6"/></g><g fill="#004F83"><circle cx="169.0" cy="810.7" r="11.3"/><circle cx="280.3" cy="769.8" r="11.3"/><circle cx="335.9" cy="744.3" r="11.3"/><circle cx="391.5" cy="713.6" r="11.3"/><circle cx="447.2" cy="677.8" r="11.3"/><circle cx="502.8" cy="636.9" r="11.3"/><circle cx="536.2" cy="606.3" r="11.3"/><circle cx="569.6" cy="570.5" r="11.3"/><circle cx="603.0" cy="534.3" r="11.3"/><circle cx="636.4" cy="495.4" r="11.3"/><circle cx="669.8" cy="448.4" r="11.3"/><circle cx="703.1" cy="398.7" r="11.3"/><circle cx="736.5" cy="341.5" r="11.3"/><circle cx="769.9" cy="283.8" r="11.3"/><circle cx="803.3" cy="228.0" r="11.3"/><circle cx="836.7" cy="178.5" r="11.3"/><circle cx="892.3" cy="103.3" r="11.3"/><circle cx="948.0" cy="44.0" r="11.3"/><circle cx="1003.6" cy="-7.1" r="11.3"/><circle cx="1059.2" cy="-48.0" r="11.3"/><circle cx="1170.5" cy="-120.5" r="11.3"/></g></g><g clip-path="url(#c1)"><g stroke="#009000" stroke-width="2.0"><line x1="1155.5" y1="-326.9" x2="1074.3" y2="-293.4"/><line x1="1044.5" y1="-280.1" x2="1018.3" y2="-267.6"/><line x1="989.5" y1="-252.4" x2="962.1" y2="-236.5"/><line x1="934.1" y1="-219.8" x2="906.2" y2="-202.7"/><line x1="879.3" y1="-184.3" x2="849.7" y2="-162.0"/><line x1="823.9" y1="-142.1" x2="816.0" y2="-135.8"/><line x1="791.5" y1="-114.4" x2="781.7" y2="-105.2"/><line x1="757.3" y1="-83.6" x2="749.1" y2="-76.7"/><line x1="725.9" y1="-54.0" x2="713.8" y2="-39.9"/><line x1="692.5" y1="-15.1" x2="680.4" y2="-1.0"/><line x1="659.7" y1="24.2" x2="646.4" y2="41.4"/><line x1="627.3" y1="67.8" x2="612.0" y2="90.8"/><line x1="594.7" y1="118.4" x2="577.9" y2="146.6"/><line x1="561.9" y1="175.0" x2="543.9" y2="208.9"/><line x1="528.7" y1="237.8" x2="510.4" y2="272.9"/><line x1="495.3" y1="301.8" x2="454.7" y2="380.2"/><line x1="439.7" y1="409.1" x2="399.1" y2="487.0"/><line x1="383.5" y1="515.7" x2="343.9" y2="585.9"/><line x1="327.0" y1="613.8" x2="289.1" y2="672.3"/><line x1="270.7" y1="699.2" x2="178.5" y2="827.1"/></g><g fill="#009000" shape-rendering="crispEdges"><rect x="1160.1" y="-343.5" width="20.8" height="20.8"/><rect x="1048.8" y="-297.5" width="20.8" height="20.8"/><rect x="993.2" y="-271.0" width="20.8" height="20.8"/><rect x="937.6" y="-238.8" width="20.8" height="20.8"/><rect x="881.9" y="-204.5" width="20.8" height="20.8"/><rect x="826.3" y="-162.6" width="20.8" height="20.8"/><rect x="792.9" y="-136.0" width="20.8" height="20.8"/><rect x="759.5" y="-104.4" width="20.8" height="20.8"/><rect x="726.1" y="-76.8" width="20.8" height="20.8"/><rect x="692.7" y="-37.9" width="20.8" height="20.8"/><rect x="659.4" y="0.9" width="20.8" height="20.8"/><rect x="626.0" y="43.9" width="20.8" height="20.8"/><rect x="592.6" y="94.0" width="20.8" height="20.8"/><rect x="559.2" y="150.2" width="20.8" height="20.8"/><rect x="525.8" y="212.9" width="20.8" height="20.8"/><rect x="492.4" y="276.9" width="20.8" height="20.8"/><rect x="436.8" y="384.3" width="20.8" height="20.8"/><rect x="381.1" y="491.1" width="20.8" height="20.8"/><rect x="325.5" y="589.7" width="20.8" height="20.8"/><rect x="269.9" y="675.6" width="20.8" height="20.8"/><rect x="158.6" y="829.9" width="20.8" height="20.8"/></g><g stroke="#009000" stroke-width="2.0"><line x1="184.0" y1="977.2" x2="265.2" y2="943.7"/><line x1="295.0" y1="930.4" x2="321.2" y2="917.9"/><line x1="350.0" y1="902.7" x2="377.4" y2="886.8"/><line x1="405.4" y1="870.1" x2="433.3" y2="853.0"/><line x1="460.2" y1="834.6" x2="489.8" y2="812.3"/><line x1="515.6" y1="792.4" x2="523.5" y2="786.1"/><line x1="548.0" y1="764.7" x2="557.8" y2="755.5"/><line x1="582.2" y1="733.9" x2="590.4" y2="727.0"/><line x1="613.6" y1="704.3" x2="625.7" y2="690.2"/><line x1="647.0" y1="665.4" x2="659.1" y2="651.3"/><line x1="679.8" y1="626.1" x2="693.1" y2="608.9"/><line x1="712.2" y1="582.5" x2="727.5" y2="559.5"/><line x1="744.8" y1="531.9" x2="761.6" y2="503.7"/><line x1="777.6" y1="475.3" x2="795.6" y2="441.4"/><line x1="810.8" y1="412.5" x2="829.1" y2="377.4"/><line x1="844.2" y1="348.5" x2="884.8" y2="270.1"/><line x1="899.8" y1="241.2" x2="940.4" y2="163.3"/><line x1="956.0" y1="134.6" x2="995.6" y2="64.4"/><line x1="1012.5" y1="36.5" x2="1050.4" y2="-22.0"/><line x1="1068.8" y1="-48.9" x2="1161.0" y2="-176.8"/></g><g fill="#009000" shape-rendering="crispEdges"><rect x="158.6" y="973.0" width="20.8" height="20.8"/><rect x="269.9" y="927.0" width="20.8" height="20.8"/><rect x="325.5" y="900.5" width="20.8" height="20.8"/><rect x="381.1" y="868.3" width="20.8" height="20.8"/><rect x="436.8" y="834.0" width="20.8" height="20.8"/><rect x="492.4" y="792.1" width="20.8" height="20.8"/><rect x="525.8" y="765.5" width="20.8" height="20.8"/><rect x="559.2" y="733.9" width="20.8" height="20.8"/><rect x="592.6" y="706.3" width="20.8" height="20.8"/><rect x="626.0" y="667.4" width="20.8" height="20.8"/><rect x="659.4" y="628.6" width="20.8" height="20.8"/><rect x="692.7" y="585.6" width="20.8" height="20.8"/><rect x="726.1" y="535.5" width="20.8" height="20.8"/><rect x="759.5" y="479.3" width="20.8" height="20.8"/><rect x="792.9" y="416.6" width="20.8" height="20.8"/><rect x="826.3" y="352.6" width="20.8" height="20.8"/><rect x="881.9" y="245.2" width="20.8" height="20.8"/><rect x="937.6" y="138.4" width="20.8" height="20.8"/><rect x="993.2" y="39.8" width="20.8" height="20.8"/><rect x="1048.8" y="-46.1" width="20.8" height="20.8"/><rect x="1160.1" y="-200.4" width="20.8" height="20.8"/></g></g><rect x="335.9" y="69.6" width="667.7" height="511.1" fill="none" stroke="#000" stroke-width="2.0"/><line x1="335.9" y1="580.7" x2="335.9" y2="591.2" stroke="#000" stroke-width="2.0"/><line x1="391.5" y1="580.7" x2="391.5" y2="587.2" stroke="#000" stroke-width="2.0"/><line x1="391.5" y1="69.6" x2="391.5" y2="76.1" stroke="#000" stroke-width="2.0"/><line x1="447.2" y1="580.7" x2="447.2" y2="591.2" stroke="#000" stroke-width="2.0"/><line x1="447.2" y1="69.6" x2="447.2" y2="80.1" stroke="#000" stroke-width="2.0"/><line x1="502.8" y1="580.7" x2="502.8" y2="587.2" stroke="#000" stroke-width="2.0"/><line x1="502.8" y1="69.6" x2="502.8" y2="76.1" stroke="#000" stroke-width="2.0"/><line x1="558.5" y1="580.7" x2="558.5" y2="591.2" stroke="#000" stroke-width="2.0"/><line x1="558.5" y1="69.6" x2="558.5" y2="80.1" stroke="#000" stroke-width="2.0"/><line x1="614.1" y1="580.7" x2="614.1" y2="587.2" stroke="#000" stroke-width="2.0"/><line x1="614.1" y1="69.6" x2="614.1" y2="76.1" stroke="#000" stroke-width="2.0"/><line x1="669.8" y1="580.7" x2="669.8" y2="591.2" stroke="#000" stroke-width="2.0"/><line x1="669.8" y1="69.6" x2="669.8" y2="80.1" stroke="#000" stroke-width="2.0"/><line x1="725.4" y1="580.7" x2="725.4" y2="587.2" stroke="#000" stroke-width="2.0"/><line x1="725.4" y1="69.6" x2="725.4" y2="76.1" stroke="#000" stroke-width="2.0"/><line x1="781.0" y1="580.7" x2="781.0" y2="591.2" stroke="#000" stroke-width="2.0"/><line x1="781.0" y1="69.6" x2="781.0" y2="80.1" stroke="#000" stroke-width="2.0"/><line x1="836.7" y1="580.7" x2="836.7" y2="587.2" stroke="#000" stroke-width="2.0"/><line x1="836.7" y1="69.6" x2="836.7" y2="76.1" stroke="#000" stroke-width="2.0"/><line x1="892.3" y1="580.7" x2="892.3" y2="591.2" stroke="#000" stroke-width="2.0"/><line x1="892.3" y1="69.6" x2="892.3" y2="80.1" stroke="#000" stroke-width="2.0"/><line x1="948.0" y1="580.7" x2="948.0" y2="587.2" stroke="#000" stroke-width="2.0"/><line x1="948.0" y1="69.6" x2="948.0" y2="76.1" stroke="#000" stroke-width="2.0"/><line x1="1003.6" y1="580.7" x2="1003.6" y2="591.2" stroke="#000" stroke-width="2.0"/><line x1="329.4" y1="580.7" x2="335.9" y2="580.7" stroke="#000" stroke-width="2.0"/><line x1="325.4" y1="529.6" x2="335.9" y2="529.6" stroke="#000" stroke-width="2.0"/><line x1="993.1" y1="529.6" x2="1003.6" y2="529.6" stroke="#000" stroke-width="2.0"/><line x1="329.4" y1="478.5" x2="335.9" y2="478.5" stroke="#000" stroke-width="2.0"/><line x1="997.1" y1="478.5" x2="1003.6" y2="478.5" stroke="#000" stroke-width="2.0"/><line x1="325.4" y1="427.4" x2="335.9" y2="427.4" stroke="#000" stroke-width="2.0"/><line x1="993.1" y1="427.4" x2="1003.6" y2="427.4" stroke="#000" stroke-width="2.0"/><line x1="329.4" y1="376.3" x2="335.9" y2="376.3" stroke="#000" stroke-width="2.0"/><line x1="997.1" y1="376.3" x2="1003.6" y2="376.3" stroke="#000" stroke-width="2.0"/><line x1="325.4" y1="325.2" x2="335.9" y2="325.2" stroke="#000" stroke-width="2.0"/><line x1="993.1" y1="325.2" x2="1003.6" y2="325.2" stroke="#000" stroke-width="2.0"/><line x1="329.4" y1="274.0" x2="335.9" y2="274.0" stroke="#000" stroke-width="2.0"/><line x1="997.1" y1="274.0" x2="1003.6" y2="274.0" stroke="#000" stroke-width="2.0"/><line x1="325.4" y1="222.9" x2="335.9" y2="222.9" stroke="#000" stroke-width="2.0"/><line x1="993.1" y1="222.9" x2="1003.6" y2="222.9" stroke="#000" stroke-width="2.0"/><line x1="329.4" y1="171.8" x2="335.9" y2="171.8" stroke="#000" stroke-width="2.0"/><line x1="997.1" y1="171.8" x2="1003.6" y2="171.8" stroke="#000" stroke-width="2.0"/><line x1="325.4" y1="120.7" x2="335.9" y2="120.7" stroke="#000" stroke-width="2.0"/><line x1="993.1" y1="120.7" x2="1003.6" y2="120.7" stroke="#000" stroke-width="2.0"/><line x1="329.4" y1="69.6" x2="335.9" y2="69.6" stroke="#000" stroke-width="2.0"/><text transform="translate(335.1 634.2) scale(1 1.06)" font-size="47.6" text-anchor="middle" fill="#000" >-600</text><text transform="translate(446.4 634.2) scale(1 1.06)" font-size="47.6" text-anchor="middle" fill="#000" >-400</text><text transform="translate(557.7 634.2) scale(1 1.06)" font-size="47.6" text-anchor="middle" fill="#000" >-200</text><text transform="translate(669.0 634.2) scale(1 1.06)" font-size="47.6" text-anchor="middle" fill="#000" >0</text><text transform="translate(780.2 634.2) scale(1 1.06)" font-size="47.6" text-anchor="middle" fill="#000" >200</text><text transform="translate(891.5 634.2) scale(1 1.06)" font-size="47.6" text-anchor="middle" fill="#000" >400</text><text transform="translate(1002.8 634.2) scale(1 1.06)" font-size="47.6" text-anchor="middle" fill="#000" >600</text><text transform="translate(323.9 544.2) scale(1 1.06)" font-size="47.6" text-anchor="end" fill="#000" >-20</text><text transform="translate(323.9 442.0) scale(1 1.06)" font-size="47.6" text-anchor="end" fill="#000" >-10</text><text transform="translate(323.9 339.8) scale(1 1.06)" font-size="47.6" text-anchor="end" fill="#000" >0</text><text transform="translate(323.9 237.5) scale(1 1.06)" font-size="47.6" text-anchor="end" fill="#000" >10</text><text transform="translate(323.9 135.3) scale(1 1.06)" font-size="47.6" text-anchor="end" fill="#000" >20</text></g>
<g><rect x="1173.6" y="754.5" width="668.3000000000002" height="510.79999999999995" fill="#fff"/><g stroke="#004F83" stroke-width="1.8"><line x1="1468.4" y1="874.0" x2="1490.2" y2="871.8"/><line x1="1524.1" y1="868.9" x2="1545.9" y2="867.4"/><line x1="1579.8" y1="865.3" x2="1601.6" y2="864.1"/><line x1="1635.5" y1="862.6" x2="1657.2" y2="861.7"/><line x1="1691.2" y1="860.6" x2="1712.9" y2="860.0"/><line x1="1746.9" y1="859.1" x2="1768.6" y2="858.6"/></g><g fill="#004F83"><circle cx="1225.6" cy="1093.8" r="10.9"/><circle cx="1225.9" cy="1092.7" r="10.9"/><circle cx="1226.2" cy="1091.6" r="10.9"/><circle cx="1226.5" cy="1090.5" r="10.9"/><circle cx="1226.8" cy="1089.4" r="10.9"/><circle cx="1227.1" cy="1088.3" r="10.9"/><circle cx="1227.4" cy="1087.2" r="10.9"/><circle cx="1227.8" cy="1086.1" r="10.9"/><circle cx="1228.1" cy="1085.1" r="10.9"/><circle cx="1228.4" cy="1084.0" r="10.9"/><circle cx="1228.7" cy="1082.9" r="10.9"/><circle cx="1229.0" cy="1081.8" r="10.9"/><circle cx="1229.3" cy="1080.7" r="10.9"/><circle cx="1229.6" cy="1079.6" r="10.9"/><circle cx="1229.9" cy="1078.5" r="10.9"/><circle cx="1230.3" cy="1077.4" r="10.9"/><circle cx="1230.6" cy="1076.3" r="10.9"/><circle cx="1230.9" cy="1075.2" r="10.9"/><circle cx="1231.2" cy="1074.2" r="10.9"/><circle cx="1231.5" cy="1073.1" r="10.9"/><circle cx="1231.8" cy="1072.0" r="10.9"/><circle cx="1233.4" cy="1066.3" r="10.9"/><circle cx="1234.5" cy="1062.6" r="10.9"/><circle cx="1235.5" cy="1059.0" r="10.9"/><circle cx="1236.5" cy="1055.5" r="10.9"/><circle cx="1237.5" cy="1052.0" r="10.9"/><circle cx="1238.5" cy="1048.5" r="10.9"/><circle cx="1239.5" cy="1045.0" r="10.9"/><circle cx="1240.6" cy="1041.1" r="10.9"/><circle cx="1242.1" cy="1035.9" r="10.9"/><circle cx="1243.7" cy="1030.1" r="10.9"/><circle cx="1245.7" cy="1024.0" r="10.9"/><circle cx="1248.7" cy="1016.2" r="10.9"/><circle cx="1251.8" cy="1008.4" r="10.9"/><circle cx="1256.5" cy="995.3" r="10.9"/><circle cx="1262.1" cy="982.2" r="10.9"/><circle cx="1267.7" cy="970.7" r="10.9"/><circle cx="1273.2" cy="960.6" r="10.9"/><circle cx="1278.8" cy="951.8" r="10.9"/><circle cx="1284.4" cy="944.2" r="10.9"/><circle cx="1295.5" cy="932.2" r="10.9"/><circle cx="1306.7" cy="922.7" r="10.9"/><circle cx="1317.8" cy="914.7" r="10.9"/><circle cx="1328.9" cy="907.7" r="10.9"/><circle cx="1340.1" cy="901.9" r="10.9"/><circle cx="1362.4" cy="893.1" r="10.9"/><circle cx="1384.6" cy="887.3" r="10.9"/><circle cx="1406.9" cy="882.6" r="10.9"/><circle cx="1429.2" cy="878.6" r="10.9"/><circle cx="1451.5" cy="875.6" r="10.9"/><circle cx="1507.2" cy="870.2" r="10.9"/><circle cx="1562.8" cy="866.1" r="10.9"/><circle cx="1618.5" cy="863.2" r="10.9"/><circle cx="1674.2" cy="861.0" r="10.9"/><circle cx="1729.9" cy="859.6" r="10.9"/><circle cx="1785.6" cy="858.1" r="10.9"/></g><g stroke="#009000" stroke-width="1.8"><line x1="1468.5" y1="817.4" x2="1490.2" y2="817.2"/><line x1="1524.1" y1="816.8" x2="1545.8" y2="816.7"/><line x1="1579.8" y1="816.4" x2="1601.5" y2="816.3"/><line x1="1635.5" y1="816.1" x2="1657.2" y2="816.0"/><line x1="1691.2" y1="815.8" x2="1712.9" y2="815.7"/><line x1="1746.9" y1="815.6" x2="1768.6" y2="815.5"/></g><g fill="#009000" shape-rendering="crispEdges"><rect x="1215.1" y="1185.5" width="21" height="21"/><rect x="1215.4" y="1176.3" width="21" height="21"/><rect x="1215.7" y="1163.9" width="21" height="21"/><rect x="1216.0" y="1151.8" width="21" height="21"/><rect x="1216.3" y="1140.4" width="21" height="21"/><rect x="1216.6" y="1129.1" width="21" height="21"/><rect x="1216.9" y="1117.7" width="21" height="21"/><rect x="1217.3" y="1106.4" width="21" height="21"/><rect x="1217.6" y="1095.1" width="21" height="21"/><rect x="1217.9" y="1083.7" width="21" height="21"/><rect x="1218.2" y="1072.4" width="21" height="21"/><rect x="1218.5" y="1061.0" width="21" height="21"/><rect x="1218.8" y="1049.7" width="21" height="21"/><rect x="1219.1" y="1038.4" width="21" height="21"/><rect x="1219.4" y="1027.0" width="21" height="21"/><rect x="1219.8" y="1015.7" width="21" height="21"/><rect x="1220.1" y="1004.3" width="21" height="21"/><rect x="1220.4" y="993.0" width="21" height="21"/><rect x="1220.7" y="980.8" width="21" height="21"/><rect x="1221.0" y="968.4" width="21" height="21"/><rect x="1221.3" y="959.3" width="21" height="21"/><rect x="1222.9" y="938.1" width="21" height="21"/><rect x="1224.0" y="924.6" width="21" height="21"/><rect x="1225.0" y="908.2" width="21" height="21"/><rect x="1226.0" y="892.9" width="21" height="21"/><rect x="1227.0" y="882.3" width="21" height="21"/><rect x="1228.0" y="874.3" width="21" height="21"/><rect x="1229.0" y="868.3" width="21" height="21"/><rect x="1230.1" y="863.3" width="21" height="21"/><rect x="1231.6" y="858.0" width="21" height="21"/><rect x="1233.2" y="852.9" width="21" height="21"/><rect x="1235.2" y="848.0" width="21" height="21"/><rect x="1238.2" y="841.6" width="21" height="21"/><rect x="1241.3" y="836.7" width="21" height="21"/><rect x="1246.0" y="831.0" width="21" height="21"/><rect x="1251.6" y="826.0" width="21" height="21"/><rect x="1257.2" y="822.7" width="21" height="21"/><rect x="1262.7" y="819.9" width="21" height="21"/><rect x="1268.3" y="817.7" width="21" height="21"/><rect x="1273.9" y="816.1" width="21" height="21"/><rect x="1285.0" y="814.2" width="21" height="21"/><rect x="1296.2" y="813.0" width="21" height="21"/><rect x="1307.3" y="812.0" width="21" height="21"/><rect x="1318.4" y="811.1" width="21" height="21"/><rect x="1329.6" y="810.4" width="21" height="21"/><rect x="1351.9" y="809.6" width="21" height="21"/><rect x="1374.1" y="808.9" width="21" height="21"/><rect x="1396.4" y="808.2" width="21" height="21"/><rect x="1418.7" y="807.6" width="21" height="21"/><rect x="1441.0" y="807.1" width="21" height="21"/><rect x="1496.7" y="806.5" width="21" height="21"/><rect x="1552.3" y="806.0" width="21" height="21"/><rect x="1608.0" y="805.7" width="21" height="21"/><rect x="1663.7" y="805.4" width="21" height="21"/><rect x="1719.4" y="805.2" width="21" height="21"/><rect x="1775.1" y="804.9" width="21" height="21"/></g><rect x="1173.6" y="754.5" width="668.3000000000002" height="510.79999999999995" fill="none" stroke="#000" stroke-width="2.6"/><line x1="1229.3" y1="1265.3" x2="1229.3" y2="1275.6" stroke="#000" stroke-width="2.4"/><line x1="1229.3" y1="754.5" x2="1229.3" y2="764.8" stroke="#000" stroke-width="2.4"/><line x1="1340.7" y1="1265.3" x2="1340.7" y2="1270.5" stroke="#000" stroke-width="2.4"/><line x1="1340.7" y1="754.5" x2="1340.7" y2="759.7" stroke="#000" stroke-width="2.4"/><line x1="1452.1" y1="1265.3" x2="1452.1" y2="1275.6" stroke="#000" stroke-width="2.4"/><line x1="1452.1" y1="754.5" x2="1452.1" y2="764.8" stroke="#000" stroke-width="2.4"/><line x1="1563.4" y1="1265.3" x2="1563.4" y2="1270.5" stroke="#000" stroke-width="2.4"/><line x1="1563.4" y1="754.5" x2="1563.4" y2="759.7" stroke="#000" stroke-width="2.4"/><line x1="1674.8" y1="1265.3" x2="1674.8" y2="1275.6" stroke="#000" stroke-width="2.4"/><line x1="1674.8" y1="754.5" x2="1674.8" y2="764.8" stroke="#000" stroke-width="2.4"/><line x1="1786.2" y1="1265.3" x2="1786.2" y2="1270.5" stroke="#000" stroke-width="2.4"/><line x1="1786.2" y1="754.5" x2="1786.2" y2="759.7" stroke="#000" stroke-width="2.4"/><line x1="1168.3999999999999" y1="1265.3" x2="1173.6" y2="1265.3" stroke="#000" stroke-width="2.4"/><line x1="1836.7" y1="1265.3" x2="1841.9" y2="1265.3" stroke="#000" stroke-width="2.4"/><line x1="1163.3" y1="1228.8" x2="1173.6" y2="1228.8" stroke="#000" stroke-width="2.4"/><line x1="1831.6000000000001" y1="1228.8" x2="1841.9" y2="1228.8" stroke="#000" stroke-width="2.4"/><line x1="1168.3999999999999" y1="1192.3" x2="1173.6" y2="1192.3" stroke="#000" stroke-width="2.4"/><line x1="1836.7" y1="1192.3" x2="1841.9" y2="1192.3" stroke="#000" stroke-width="2.4"/><line x1="1163.3" y1="1155.8" x2="1173.6" y2="1155.8" stroke="#000" stroke-width="2.4"/><line x1="1831.6000000000001" y1="1155.8" x2="1841.9" y2="1155.8" stroke="#000" stroke-width="2.4"/><line x1="1168.3999999999999" y1="1119.4" x2="1173.6" y2="1119.4" stroke="#000" stroke-width="2.4"/><line x1="1836.7" y1="1119.4" x2="1841.9" y2="1119.4" stroke="#000" stroke-width="2.4"/><line x1="1163.3" y1="1082.9" x2="1173.6" y2="1082.9" stroke="#000" stroke-width="2.4"/><line x1="1831.6000000000001" y1="1082.9" x2="1841.9" y2="1082.9" stroke="#000" stroke-width="2.4"/><line x1="1168.3999999999999" y1="1046.4" x2="1173.6" y2="1046.4" stroke="#000" stroke-width="2.4"/><line x1="1836.7" y1="1046.4" x2="1841.9" y2="1046.4" stroke="#000" stroke-width="2.4"/><line x1="1163.3" y1="1009.9" x2="1173.6" y2="1009.9" stroke="#000" stroke-width="2.4"/><line x1="1831.6000000000001" y1="1009.9" x2="1841.9" y2="1009.9" stroke="#000" stroke-width="2.4"/><line x1="1168.3999999999999" y1="973.4" x2="1173.6" y2="973.4" stroke="#000" stroke-width="2.4"/><line x1="1836.7" y1="973.4" x2="1841.9" y2="973.4" stroke="#000" stroke-width="2.4"/><line x1="1163.3" y1="936.9" x2="1173.6" y2="936.9" stroke="#000" stroke-width="2.4"/><line x1="1831.6000000000001" y1="936.9" x2="1841.9" y2="936.9" stroke="#000" stroke-width="2.4"/><line x1="1168.3999999999999" y1="900.4" x2="1173.6" y2="900.4" stroke="#000" stroke-width="2.4"/><line x1="1836.7" y1="900.4" x2="1841.9" y2="900.4" stroke="#000" stroke-width="2.4"/><line x1="1163.3" y1="864.0" x2="1173.6" y2="864.0" stroke="#000" stroke-width="2.4"/><line x1="1831.6000000000001" y1="864.0" x2="1841.9" y2="864.0" stroke="#000" stroke-width="2.4"/><line x1="1168.3999999999999" y1="827.5" x2="1173.6" y2="827.5" stroke="#000" stroke-width="2.4"/><line x1="1836.7" y1="827.5" x2="1841.9" y2="827.5" stroke="#000" stroke-width="2.4"/><line x1="1163.3" y1="791.0" x2="1173.6" y2="791.0" stroke="#000" stroke-width="2.4"/><line x1="1831.6000000000001" y1="791.0" x2="1841.9" y2="791.0" stroke="#000" stroke-width="2.4"/><line x1="1168.3999999999999" y1="754.5" x2="1173.6" y2="754.5" stroke="#000" stroke-width="2.4"/><line x1="1836.7" y1="754.5" x2="1841.9" y2="754.5" stroke="#000" stroke-width="2.4"/><text transform="translate(1229.3 1319.3) scale(1 1.06)" font-size="47.6" text-anchor="middle" fill="#000" >0</text><text transform="translate(1452.1 1319.3) scale(1 1.06)" font-size="47.6" text-anchor="middle" fill="#000" >20,000</text><text transform="translate(1674.8 1319.3) scale(1 1.06)" font-size="47.6" text-anchor="middle" fill="#000" >40,000</text><text transform="translate(1157.0 1243.4) scale(1 1.06)" font-size="47.6" text-anchor="end" fill="#000" >-40</text><text transform="translate(1157.0 1170.4) scale(1 1.06)" font-size="47.6" text-anchor="end" fill="#000" >-20</text><text transform="translate(1157.0 1097.5) scale(1 1.06)" font-size="47.6" text-anchor="end" fill="#000" >0</text><text transform="translate(1157.0 1024.5) scale(1 1.06)" font-size="47.6" text-anchor="end" fill="#000" >20</text><text transform="translate(1157.0 951.5) scale(1 1.06)" font-size="47.6" text-anchor="end" fill="#000" >40</text><text transform="translate(1157.0 878.6) scale(1 1.06)" font-size="47.6" text-anchor="end" fill="#000" >60</text><text transform="translate(1157.0 805.6) scale(1 1.06)" font-size="47.6" text-anchor="end" fill="#000" >80</text><text transform="translate(1383.5 1090.7) scale(1 1.05)" font-size="80" text-anchor="start" fill="#000" >T = 300 K</text></g>
</svg>
</body></html>
